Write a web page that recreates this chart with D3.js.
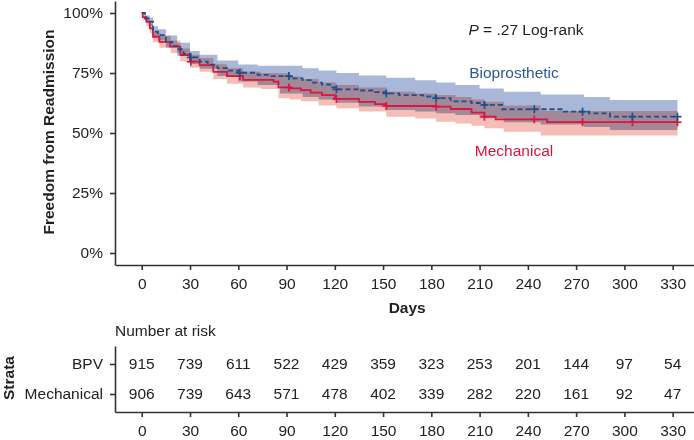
<!DOCTYPE html>
<html>
<head>
<meta charset="utf-8">
<script src="https://cdn.jsdelivr.net/npm/d3@7"></script>
<style>
  html, body { margin: 0; padding: 0; background: #fff; }
  svg { display: block; font-family: "Liberation Sans", Arial, sans-serif; }
</style>
</head>
<body>
<svg id="chart" width="694" height="440"></svg>
<script>
// ---------- DATA ----------
const riskDays = [0, 30, 60, 90, 120, 150, 180, 210, 240, 270, 300, 330];
const bpvRisk  = [915, 739, 611, 522, 429, 359, 323, 253, 201, 144, 97, 54];
const mechRisk = [906, 739, 643, 571, 478, 402, 339, 282, 220, 161, 92, 47];
const yTicks = [0, 0.25, 0.5, 0.75, 1];
const strata = ["BPV", "Mechanical"];
const endDay = 333;

// Bioprosthetic KM step curve
const bioTime = [0, 2, 5, 7, 10, 15, 19, 22, 26, 30, 36, 41, 47, 53, 60, 72, 80, 92, 100, 105, 112, 117, 121, 135, 145, 152, 160, 175, 183, 192, 205, 213, 224, 262, 278, 291];
const bioSurv = [1, .978, .964, .922, .908, .88, .862, .849, .83, .815, .797, .785, .770, .76, .751, .742, .737, .728, .72, .71, .702, .69, .682, .677, .67, .665, .658, .652, .645, .632, .625, .617, .599, .589, .582, .568];
// Bioprosthetic confidence band
const bioBandTime = [0, 2, 5, 7, 10, 15, 22, 30, 36, 47, 60, 72, 86, 100, 110, 121, 135, 152, 170, 183, 195, 210, 225, 248, 275, 291];
const bioLower    = [1, .962, .945, .90, .885, .856, .822, .788, .768, .738, .715, .70, .665, .65, .64, .626, .61, .596, .59, .582, .575, .561, .545, .535, .525, .512];
const bioUpper    = [1, .99, .98, .945, .932, .906, .876, .842, .826, .802, .785, .78, .78, .77, .76, .75, .74, .73, .72, .71, .70, .685, .672, .66, .65, .6375];

// Mechanical KM step curve
const mechTime = [0, 0.6, 3, 5, 7, 11, 17.6, 24, 30, 36, 44.5, 53, 63, 82, 85, 92, 99, 105, 112, 120, 135, 145, 152, 183, 192, 205, 213, 220, 252];
const mechSurv = [1, .983, .963, .936, .901, .88, .86, .825, .797, .783, .755, .737, .721, .714, .69, .686, .679, .668, .658, .642, .63, .62, .6125, .61, .60, .585, .568, .557, .545];
// Mechanical confidence band
const mechBandTime = [0, 0.6, 3, 5, 7, 11, 18, 24, 30, 36, 44.5, 53, 63, 74, 85, 92, 99, 110, 121, 135, 152, 170, 183, 195, 205, 213, 225, 248];
const mechLower    = [1, .97, .946, .915, .878, .855, .833, .798, .772, .755, .725, .705, .69, .683, .645, .64, .632, .615, .603, .59, .568, .56, .547, .54, .53, .52, .505, .49];
const mechUpper    = [1, .993, .978, .956, .924, .905, .885, .852, .826, .812, .786, .77, .755, .75, .749, .735, .725, .71, .70, .69, .672, .665, .658, .65, .64, .63, .615, .592];

// censor marks
const markDays = [30.5, 61, 91.5, 121, 152, 183, 213, 244, 274, 305, 333];

// ---------- DRAW ----------
const svg = d3.select("#chart");
const textColor = "#222";
const axisColor = "#333";
const blue = "#1f4f8d";
const red = "#d9173f";

const x = d3.scaleLinear().domain([-16.5, 346.5]).range([115.2, 699.2]);
const y = d3.scaleLinear().domain([-0.05, 1.05]).range([265, 1]);

function toPts(t, v) { const p = t.map((d, i) => ({t: d, v: v[i]})); p.push({t: endDay, v: v[v.length - 1]}); return p; }
function toBand(t, lo, hi) { const p = t.map((d, i) => ({t: d, lo: lo[i], hi: hi[i]})); p.push({t: endDay, lo: lo[lo.length - 1], hi: hi[hi.length - 1]}); return p; }
function stepVal(t, v, day) { let r = v[0]; for (let i = 0; i < t.length; i++) if (t[i] <= day) r = v[i]; return r; }

const area = d3.area().curve(d3.curveStepAfter).x(d => x(d.t)).y0(d => y(d.lo)).y1(d => y(d.hi));
const line = d3.line().curve(d3.curveStepAfter).x(d => x(d.t)).y(d => y(d.v));

const bands = svg.append("g");
bands.append("path").datum(toBand(bioBandTime, bioLower, bioUpper))
  .attr("d", area).attr("fill", "#a9b7d8");
bands.append("path").datum(toBand(mechBandTime, mechLower, mechUpper))
  .attr("d", area).attr("fill", "#f4bdb5").style("mix-blend-mode", "multiply");

// curves
svg.append("path").datum(toPts(mechTime, mechSurv)).attr("d", line)
  .attr("fill", "none").attr("stroke", red).attr("stroke-width", 1.8);
svg.append("path").datum(toPts(bioTime, bioSurv)).attr("d", line)
  .attr("fill", "none").attr("stroke", blue).attr("stroke-width", 1.8)
  .attr("stroke-dasharray", "5,3");

function marks(t, v, color) {
  const g = svg.append("g").attr("stroke", color).attr("stroke-width", 1.7);
  markDays.forEach(d => {
    const cx = x(d), cy = y(stepVal(t, v, d));
    g.append("line").attr("x1", cx - 4).attr("x2", cx + 4).attr("y1", cy).attr("y2", cy);
    g.append("line").attr("x1", cx).attr("x2", cx).attr("y1", cy - 4).attr("y2", cy + 4);
  });
}
marks(mechTime, mechSurv, red);
marks(bioTime, bioSurv, blue);

// axes
function styleAxis(g) {
  g.selectAll("path, line").attr("stroke", axisColor).attr("stroke-width", 1.6);
  g.selectAll("text").attr("fill", textColor).style("font-size", "15.5px")
    .style("font-family", '"Liberation Sans", Arial, sans-serif');
}
const yAxis = svg.append("g").attr("transform", "translate(115,0)")
  .call(d3.axisLeft(y).tickValues(yTicks).tickFormat(d3.format(".0%")).tickSize(5).tickSizeOuter(0).tickPadding(7));
styleAxis(yAxis);
const xAxis = svg.append("g").attr("transform", "translate(0,265)")
  .call(d3.axisBottom(x).tickValues(riskDays).tickSize(5).tickSizeOuter(0).tickPadding(8));
styleAxis(xAxis);

// labels
svg.append("text").attr("x", x(165)).attr("y", 313).attr("text-anchor", "middle")
  .attr("fill", textColor).style("font-size", "15.5px").style("font-weight", "bold").text("Days");
svg.append("text").attr("transform", "translate(54,132) rotate(-90)").attr("text-anchor", "middle")
  .attr("fill", textColor).style("font-size", "15.5px").style("font-weight", "bold").text("Freedom from Readmission");

const pText = svg.append("text").attr("x", 526).attr("y", 35).attr("text-anchor", "middle")
  .attr("fill", textColor).style("font-size", "15.5px");
pText.append("tspan").style("font-style", "italic").text("P");
pText.append("tspan").text(" = .27 Log-rank");

svg.append("text").attr("x", 514).attr("y", 78).attr("text-anchor", "middle")
  .attr("fill", "#285a98").style("font-size", "15.5px").text("Bioprosthetic");
svg.append("text").attr("x", 514).attr("y", 156).attr("text-anchor", "middle")
  .attr("fill", "#d8143e").style("font-size", "15.5px").text("Mechanical");

// risk table
svg.append("text").attr("x", 115).attr("y", 336).attr("fill", textColor)
  .style("font-size", "15.5px").text("Number at risk");
const rowY = d3.scalePoint().domain(strata).range([346, 412]).padding(0.6);
const tAxisL = svg.append("g").attr("transform", "translate(115,0)")
  .call(d3.axisLeft(rowY).tickSize(5).tickSizeOuter(0).tickPadding(7));
styleAxis(tAxisL);
const tAxisB = svg.append("g").attr("transform", "translate(0,412)")
  .call(d3.axisBottom(x).tickValues(riskDays).tickSize(5).tickSizeOuter(0).tickPadding(8));
styleAxis(tAxisB);

const rows = [bpvRisk, mechRisk];
rows.forEach((vals, ri) => {
  svg.append("g").selectAll("text").data(vals).join("text")
    .attr("x", (d, i) => x(riskDays[i])).attr("y", rowY(strata[ri])).attr("dy", "0.35em")
    .attr("text-anchor", "middle").attr("fill", textColor).style("font-size", "15.5px")
    .text(d => d);
});
svg.append("text").attr("transform", "translate(14,378) rotate(-90)").attr("text-anchor", "middle")
  .attr("fill", textColor).style("font-size", "15.5px").style("font-weight", "bold").text("Strata");
</script>
</body>
</html>
